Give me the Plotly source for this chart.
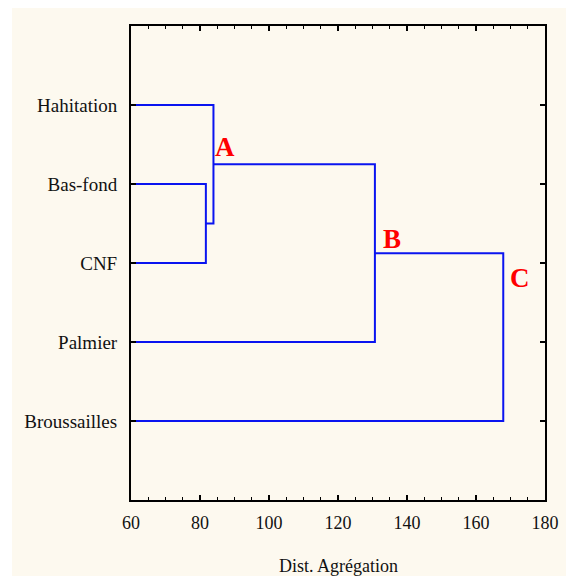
import plotly.graph_objects as go

# ---- data ----
labels = ["Hahitation", "Bas-fond", "CNF", "Palmier", "Broussailles"]
positions = [1, 2, 3, 4, 5]
# merges: pairs of members (leaf names or earlier merge indices) and heights
merge_pairs = [("Bas-fond", "CNF"), ("Hahitation", 0), (1, "Palmier"), (2, "Broussailles")]
merge_heights = [81.7, 83.9, 130.7, 167.9]
leaf_start = 60
# cluster letters: (letter, merge index giving x, node whose y is used)
cluster_letters = [("A", 1, 1), ("B", 2, 2), ("C", 3, 2)]
x_ticks = [60, 80, 100, 120, 140, 160, 180]

W, H = 566, 576
L, R, T, B = 131, 21, 26, 76
pw, ph = W - L - R, H - T - B

font_serif = "Liberation Serif, Times New Roman, serif"
blue = "#0a14f0"

node_pos = {lab: (leaf_start, p) for lab, p in zip(labels, positions)}
fig = go.Figure()
for i, ((a, b), h) in enumerate(zip(merge_pairs, merge_heights)):
    xa, ya = node_pos[a]
    xb, yb = node_pos[b]
    fig.add_trace(go.Scatter(
        x=[xa, h, h, xb], y=[ya, ya, yb, yb], mode="lines",
        line=dict(color=blue, width=2), hoverinfo="skip", showlegend=False))
    node_pos[i] = (h, (ya + yb) / 2)

shifts = {"A": (12, 17), "B": (17, 14), "C": (17, -25)}
for name, mi, ni in cluster_letters:
    x = merge_heights[mi]
    y = node_pos[ni][1]
    dx, dy = shifts[name]
    fig.add_annotation(x=x, y=y, text="<b>%s</b>" % name, showarrow=False,
                       xanchor="center", yanchor="middle", xshift=dx, yshift=dy,
                       font=dict(family=font_serif, size=27, color="#ff0000"))

# x-axis title as a paper annotation
fig.add_annotation(x=0.5, y=-(566 - (T + ph)) / ph, xref="paper", yref="paper",
                   text="Dist. Agrégation", showarrow=False,
                   xanchor="center", yanchor="middle",
                   font=dict(family=font_serif, size=18, color="#111111"))

fig.add_shape(type="rect", xref="paper", yref="paper",
              x0=(12 - L) / pw, x1=(W + 5 - L) / pw,
              y0=-(B + 5) / ph, y1=1 + (T - 8) / ph,
              fillcolor="#fdf9ef", line=dict(width=0), layer="below")

fig.update_layout(
    width=W, height=H,
    margin=dict(l=L, r=R, t=T, b=B, autoexpand=False),
    paper_bgcolor="white",
    plot_bgcolor="white",
    font=dict(family=font_serif, size=18, color="#111111"),
    showlegend=False,
)
fig.update_xaxes(
    range=[60, 180], tickvals=x_ticks, ticks="inside", ticklen=5, tickwidth=1.5,
    tickcolor="black", showline=True, linecolor="black", linewidth=2, mirror="ticks",
    showgrid=False, zeroline=False, ticklabelstandoff=5, automargin=False,
    minor=dict(dtick=5, ticks="inside", ticklen=3, tickcolor="black", tickwidth=1, showgrid=False),
    tickfont=dict(size=18),
)
fig.update_yaxes(
    range=[6, 0], tickvals=positions, ticktext=labels, ticks="inside", ticklen=5,
    tickwidth=1.5, tickcolor="black", showline=True, linecolor="black", linewidth=2,
    mirror="ticks", showgrid=False, zeroline=False, ticklabelstandoff=8, automargin=False,
    tickfont=dict(size=19),
)

fig.write_html(
    "out.html",
    config={"displayModeBar": False},
    post_script="document.documentElement.style.overflow='hidden';"
                "document.body.style.margin='0';document.body.style.overflow='hidden';",
)
